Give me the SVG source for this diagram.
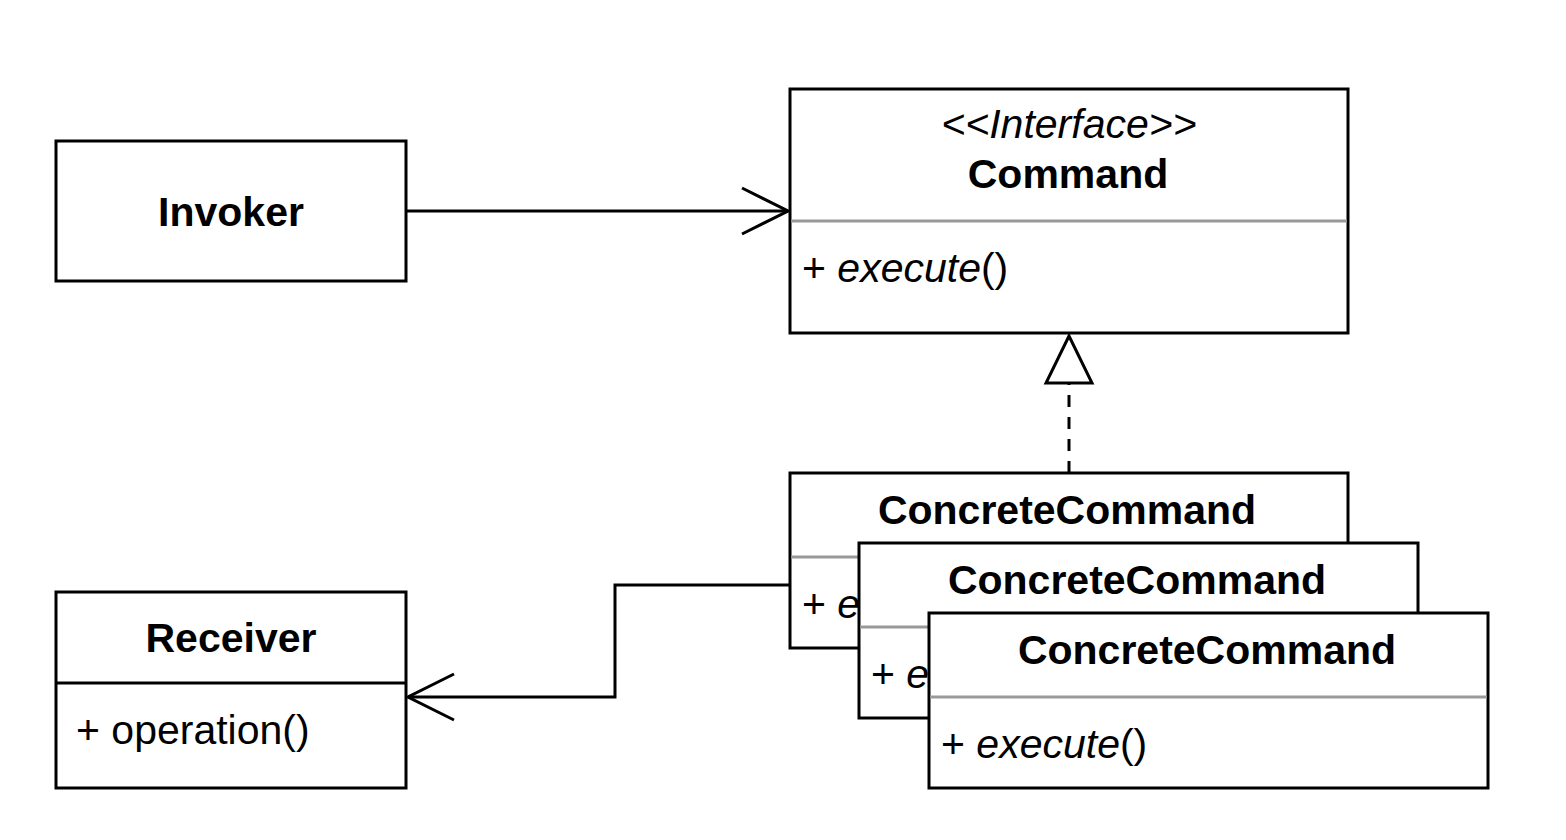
<svg xmlns="http://www.w3.org/2000/svg" width="1566" height="840" viewBox="0 0 1566 840">
<style>
.box{fill:#fff;stroke:#000;stroke-width:3}
.div{stroke:#999;stroke-width:3}
.divb{stroke:#000;stroke-width:3}
text{font-family:"Liberation Sans",Arial,sans-serif;font-size:41px;fill:#000}
.t{font-weight:bold;text-anchor:middle}
.c{text-anchor:middle;font-style:italic}
.i{font-style:italic}
.ln{fill:none;stroke:#000;stroke-width:3}
</style>
<defs>
<marker id="open" viewBox="0 0 50 50" refX="48" refY="25" markerWidth="50" markerHeight="50" markerUnits="userSpaceOnUse" orient="auto">
<path d="M2,2 L48,25 L2,48" fill="none" stroke="#000" stroke-width="3"/>
</marker>
</defs>
<g id="connectors">
<path class="ln" d="M406,211 H788" marker-end="url(#open)"/>
<path class="ln" d="M1069,473 V383" stroke-dasharray="12,10"/>
<path d="M1069,336 L1092,383 L1046,383 Z" fill="#fff" stroke="#000" stroke-width="3"/>
<path class="ln" d="M790,585 H615 V697 H408" marker-end="url(#open)"/>
</g>
<g id="invoker">
<rect class="box" x="56" y="141" width="350" height="140"/>
<text class="t" x="231" y="226">Invoker</text>
</g>
<g id="command">
<rect class="box" x="790" y="89" width="558" height="244"/>
<line class="div" x1="791" y1="221" x2="1347" y2="221"/>
<text class="c" x="1069" y="138">&lt;&lt;Interface&gt;&gt;</text>
<text class="t" x="1068" y="188">Command</text>
<text x="802" y="282">+ <tspan class="i">execute</tspan>()</text>
</g>
<g id="concrete1">
<rect class="box" x="790" y="473" width="558" height="175"/>
<line class="div" x1="791" y1="557" x2="1347" y2="557"/>
<text class="t" x="1067" y="524">ConcreteCommand</text>
<text x="802" y="618">+ <tspan class="i">e</tspan></text>
</g>
<g id="concrete2">
<rect class="box" x="859" y="543" width="559" height="175"/>
<line class="div" x1="860" y1="627" x2="1417" y2="627"/>
<text class="t" x="1137" y="594">ConcreteCommand</text>
<text x="871" y="688">+ <tspan class="i">e</tspan></text>
</g>
<g id="concrete3">
<rect class="box" x="929" y="613" width="559" height="175"/>
<line class="div" x1="930" y1="697" x2="1487" y2="697"/>
<text class="t" x="1207" y="664">ConcreteCommand</text>
<text x="941" y="758">+ <tspan class="i">execute</tspan>()</text>
</g>
<g id="receiver">
<rect class="box" x="56" y="592" width="350" height="196"/>
<line class="divb" x1="56" y1="683" x2="406" y2="683"/>
<text class="t" x="231" y="652">Receiver</text>
<text x="76" y="744">+ operation()</text>
</g>
</svg>
